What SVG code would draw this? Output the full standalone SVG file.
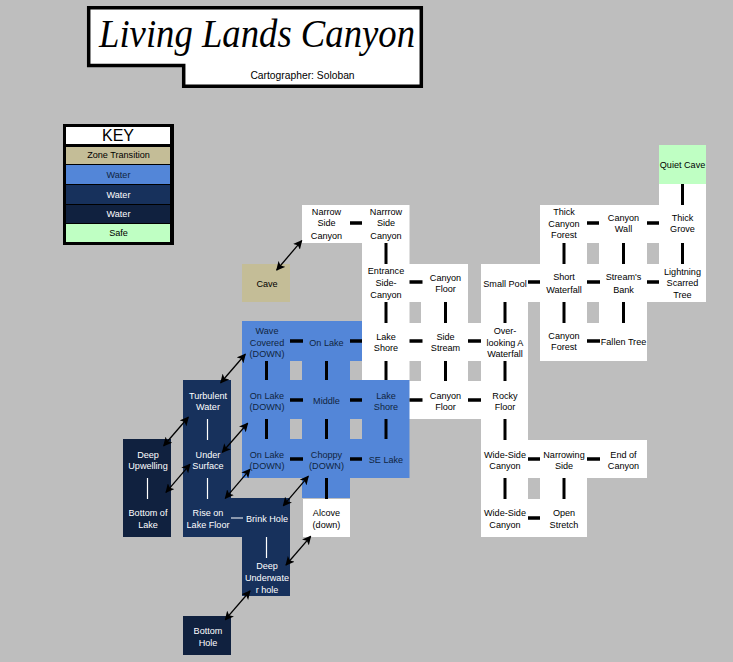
<svg xmlns="http://www.w3.org/2000/svg" width="733" height="662" viewBox="0 0 733 662">
<style>
text{font-family:"Liberation Sans",Arial,sans-serif;font-size:9.1px;text-anchor:middle;fill:#000}
.w{fill:#fff}.l{fill:#5386d8}.d{fill:#17315c}.x{fill:#10213f}.t{fill:#c4bd97}.s{fill:#bfffc3}
.tw text,text.tw{fill:#fff}.tn text,text.tn{fill:#10253f}
.k{stroke:#000;stroke-width:3.5;fill:none}
.v{stroke:#000;stroke-width:3;fill:none}
.kw{stroke:#fff;stroke-width:1.2;fill:none}
.a{stroke:#000;stroke-width:1.3;fill:none;marker-start:url(#h);marker-end:url(#h)}
</style>
<defs><marker id="h" viewBox="0 0 10 10" refX="9" refY="5" markerWidth="9" markerHeight="9" markerUnits="userSpaceOnUse" orient="auto-start-reverse"><path d="M0 0L10 5L0 10L2.500 5Z" fill="#000"/></marker></defs>
<rect width="733" height="662" fill="#bebebe"/>
<g id="title">
<path d="M88.700 7.700H421.300V86.300H183.700V65.500H88.700Z" fill="#fff" stroke="#000" stroke-width="3.500"/>
<text x="257" y="47" style="font-family:'Liberation Serif',serif;font-style:italic;font-size:39px" textLength="316" lengthAdjust="spacingAndGlyphs">Living Lands Canyon</text>
<text x="302.500" y="79" style="font-size:10.300px">Cartographer: Soloban</text>
</g>
<g id="key">
<rect x="63" y="124" width="111" height="121" fill="#000"/>
<rect x="66" y="127" width="104" height="17" fill="#fff"/><text x="118" y="141" style="font-size:16px">KEY</text>
<rect x="66" y="147" width="104" height="17" class="t"/><text x="118.500" y="158">Zone Transition</text>
<rect x="66" y="165" width="104" height="19" class="l"/><text x="118.500" y="178" class="tn">Water</text>
<rect x="66" y="185" width="104" height="19" class="d"/><text x="118.500" y="197.500" class="tw">Water</text>
<rect x="66" y="205" width="104" height="18" class="x"/><text x="118.500" y="217" class="tw">Water</text>
<rect x="66" y="224" width="104" height="18" class="s"/><text x="118.500" y="236">Safe</text>
</g>
<g id="corridors">
<path class="w" d="M350 205h12v38h-12ZM362 243h47.500v21h-47.500ZM409 264h12v38h-12ZM362 302h47.500v21h-47.500ZM409 323h12v38h-12ZM468 323h13v38h-13ZM421 302h47v21h-47ZM421 361h47v20h-47ZM362 361h47.500v19.500h-47.500ZM409 381h12v38h-12ZM468 381h13v38h-13ZM481 302h47v21h-47ZM481 361h47v20h-47ZM481 419h47v21h-47ZM481 478h47v21h-47ZM528 264h12v38h-12ZM587 264h12v38h-12ZM647 264h12v38h-12ZM587 205h12v38h-12ZM647 205h12v38h-12ZM659 184h47v21h-47ZM659 243h47v21h-47ZM540 243h47v21h-47ZM599 243h48v21h-48ZM540 302h47v21h-47ZM599 302h48v21h-48ZM587 323h12v38h-12ZM528 440h12v38h-12ZM587 440h12v38h-12ZM540 478h47v21h-47ZM528 499h12v38h-12Z"/>
<path class="l" d="M290 321h12v40h-12ZM350 321h12v40h-12ZM242 361h48v19h-48ZM302 361h48v19h-48ZM290 380h12v39h-12ZM350 380h12v39h-12ZM242 419h48v20h-48ZM302 419h48v20h-48ZM362 419h47.500v20h-47.500ZM290 439h12v39h-12ZM350 439h12v39h-12ZM302 478h48v20h-48Z"/>
<path class="d" d="M183 419h48v20h-48ZM183 478h48v20h-48ZM231 498h11v39h-11ZM242 537h48v20h-48Z"/>
<path class="x" d="M123 478h48v20h-48Z"/>
</g>
<g id="n-narrow1"><rect class="w" x="302" y="205" width="48" height="38"/><text x="326.500" y="215">Narrow</text><text x="326.500" y="226">Side</text><text x="326.500" y="238.500">Canyon</text></g>
<g id="n-narrow2"><rect class="w" x="362" y="205" width="47.500" height="38"/><text x="386" y="215">Narrrow</text><text x="386" y="226">Side</text><text x="386" y="238.500">Canyon</text></g>
<g id="n-cave"><rect class="t" x="242" y="264" width="48" height="38"/><text x="267" y="286.500">Cave</text></g>
<g id="n-entrance"><rect class="w" x="362" y="264" width="47.500" height="38"/><text x="386" y="274">Entrance</text><text x="386" y="286">Side-</text><text x="386" y="297.500">Canyon</text></g>
<g id="n-floor1"><rect class="w" x="421" y="264" width="47" height="38"/><text x="445.500" y="280.500">Canyon</text><text x="445.500" y="292">Floor</text></g>
<g id="n-pool"><rect class="w" x="481" y="264" width="47" height="38"/><text x="505" y="286.500">Small Pool</text></g>
<g id="n-quiet"><rect class="s" x="659" y="145" width="47" height="39"/><text x="682.500" y="168">Quiet Cave</text></g>
<g id="n-thickforest"><rect class="w" x="540" y="205" width="47" height="38"/><text x="564" y="215">Thick</text><text x="564" y="226.500">Canyon</text><text x="564" y="238">Forest</text></g>
<g id="n-wall"><rect class="w" x="599" y="205" width="48" height="38"/><text x="623.500" y="221">Canyon</text><text x="623.500" y="232">Wall</text></g>
<g id="n-grove"><rect class="w" x="659" y="205" width="47" height="38"/><text x="682.500" y="221">Thick</text><text x="682.500" y="232">Grove</text></g>
<g id="n-waterfall"><rect class="w" x="540" y="264" width="47" height="38"/><text x="564" y="280">Short</text><text x="564" y="292.500">Waterfall</text></g>
<g id="n-bank"><rect class="w" x="599" y="264" width="48" height="38"/><text x="623.500" y="280">Stream's</text><text x="623.500" y="292.500">Bank</text></g>
<g id="n-lightning"><rect class="w" x="659" y="264" width="47" height="38"/><text x="682.500" y="274.500">Lightning</text><text x="682.500" y="286">Scarred</text><text x="682.500" y="297.500">Tree</text></g>
<g id="n-forest"><rect class="w" x="540" y="323" width="47" height="38"/><text x="564" y="339">Canyon</text><text x="564" y="350">Forest</text></g>
<g id="n-fallen"><rect class="w" x="599" y="323" width="48" height="38"/><text x="623.500" y="345">Fallen Tree</text></g>
<g id="n-wave" class="tn"><rect class="l" x="242" y="321" width="48" height="40"/><text x="267" y="333.500">Wave</text><text x="267" y="345.500">Covered</text><text x="267" y="356.500">(DOWN)</text></g>
<g id="n-onlake1" class="tn"><rect class="l" x="302" y="321" width="48" height="40"/><text x="326.500" y="345.500">On Lake</text></g>
<g id="n-shore1"><rect class="w" x="362" y="323" width="47.500" height="38"/><text x="386" y="339.500">Lake</text><text x="386" y="350.500">Shore</text></g>
<g id="n-stream"><rect class="w" x="421" y="323" width="47" height="38"/><text x="445.500" y="339.500">Side</text><text x="445.500" y="350.500">Stream</text></g>
<g id="n-overlook"><rect class="w" x="481" y="323" width="47" height="38"/><text x="505" y="333.500">Over-</text><text x="505" y="345.500">looking A</text><text x="505" y="356.500">Waterfall</text></g>
<g id="n-onlake2" class="tn"><rect class="l" x="242" y="380" width="48" height="39"/><text x="267" y="398.500">On Lake</text><text x="267" y="409.500">(DOWN)</text></g>
<g id="n-middle" class="tn"><rect class="l" x="302" y="380" width="48" height="39"/><text x="326.500" y="403.500">Middle</text></g>
<g id="n-shore2" class="tn"><rect class="l" x="362" y="380" width="47.500" height="39"/><text x="386" y="398.500">Lake</text><text x="386" y="409.500">Shore</text></g>
<g id="n-floor2"><rect class="w" x="421" y="381" width="47" height="38"/><text x="445.500" y="398.500">Canyon</text><text x="445.500" y="409.500">Floor</text></g>
<g id="n-rocky"><rect class="w" x="481" y="381" width="47" height="38"/><text x="505" y="398.500">Rocky</text><text x="505" y="409.500">Floor</text></g>
<g id="n-turbulent" class="tw"><rect class="d" x="183" y="380" width="48" height="39"/><text x="208" y="398.500">Turbulent</text><text x="208" y="409.500">Water</text></g>
<g id="n-upwelling" class="tw"><rect class="x" x="123" y="439" width="48" height="39"/><text x="148" y="457.500">Deep</text><text x="148" y="468.500">Upwelling</text></g>
<g id="n-under" class="tw"><rect class="d" x="183" y="439" width="48" height="39"/><text x="208" y="457.500">Under</text><text x="208" y="468.500">Surface</text></g>
<g id="n-onlake3" class="tn"><rect class="l" x="242" y="439" width="48" height="39"/><text x="267" y="457.500">On Lake</text><text x="267" y="468.500">(DOWN)</text></g>
<g id="n-choppy" class="tn"><rect class="l" x="302" y="439" width="48" height="39"/><text x="326.500" y="457.500">Choppy</text><text x="326.500" y="468.500">(DOWN)</text></g>
<g id="n-se" class="tn"><rect class="l" x="362" y="439" width="47.500" height="39"/><text x="386" y="462.500">SE Lake</text></g>
<g id="n-wide1"><rect class="w" x="481" y="440" width="47" height="38"/><text x="505" y="457.500">Wide-Side</text><text x="505" y="468.500">Canyon</text></g>
<g id="n-narrowing"><rect class="w" x="540" y="440" width="47" height="38"/><text x="564" y="457.500">Narrowing</text><text x="564" y="468.500">Side</text></g>
<g id="n-end"><rect class="w" x="599" y="440" width="48" height="38"/><text x="623.500" y="457.500">End of</text><text x="623.500" y="468.500">Canyon</text></g>
<g id="n-bottomlake" class="tw"><rect class="x" x="123" y="498" width="48" height="39"/><text x="148" y="515.500">Bottom of</text><text x="148" y="527.500">Lake</text></g>
<g id="n-rise" class="tw"><rect class="d" x="183" y="498" width="48" height="39"/><text x="208" y="515.500">Rise on</text><text x="208" y="527.500">Lake Floor</text></g>
<g id="n-brink" class="tw"><rect class="d" x="242" y="498" width="48" height="39"/><text x="267" y="521.500">Brink Hole</text></g>
<g id="n-alcove"><rect class="w" x="303" y="499" width="47" height="38"/><text x="326.500" y="515.500">Alcove</text><text x="326.500" y="527.500">(down)</text></g>
<g id="n-wide2"><rect class="w" x="481" y="499" width="47" height="38"/><text x="505" y="515.500">Wide-Side</text><text x="505" y="527.500">Canyon</text></g>
<g id="n-open"><rect class="w" x="540" y="499" width="47" height="38"/><text x="564" y="515.500">Open</text><text x="564" y="527.500">Stretch</text></g>
<g id="n-deep" class="tw"><rect class="d" x="242" y="557" width="48" height="39"/><text x="267" y="568.500">Deep</text><text x="267" y="580.500">Underwate</text><text x="267" y="592.500">r hole</text></g>
<g id="n-bottomhole" class="tw"><rect class="x" x="183" y="616" width="48" height="39"/><text x="208" y="633.500">Bottom</text><text x="208" y="645.500">Hole</text></g>
<g id="connectors">
<path class="k" d="M350 223h12M587 223h12M647 223h12M409.500 282h13M528 282h12M587 282h13M647 282h12M290 341h13M350 341h12M409.500 341h13M468 341h13M587 341h13M290 400h13M350 400h12M409.500 400h13M468 400h13M290 459h13M350 459h12M528 459h12M587 459h13M528 518h12"/>
<path class="v" d="M682.500 184v21M386 243v21M564 243v21M623.500 243v21M682.500 243v21M386 302v21M445.500 302v21M505 302v21M564 302v21M623.500 302v21M266.500 361v19M326.500 361v19M386 361v19M445.500 361v20M505 361v20M266.500 419v20M326.500 419v20M386 419v20M505 419v21M326.500 478v21M505 478v21M564 478v21"/>
<path class="kw" d="M147.500 478v21M207.500 419v21M207.500 478v21M231 518h12M266.500 537v21"/>
<path class="a" d="M276.700 270L301.700 240.700"/>
<path class="a" d="M220.700 382.700L245.300 354.300"/>
<path class="a" d="M163.700 445.700L188.300 417.300"/>
<path class="a" d="M222.300 452.300L247.700 423.300"/>
<path class="a" d="M166 492.300L190 464.300"/>
<path class="a" d="M225.300 498.300L250 469.300"/>
<path class="a" d="M283.300 505.700L308.300 476.300"/>
<path class="a" d="M286 565L310.700 536.300"/>
<path class="a" d="M225.300 619.700L250 591"/>
</g>
</svg>
